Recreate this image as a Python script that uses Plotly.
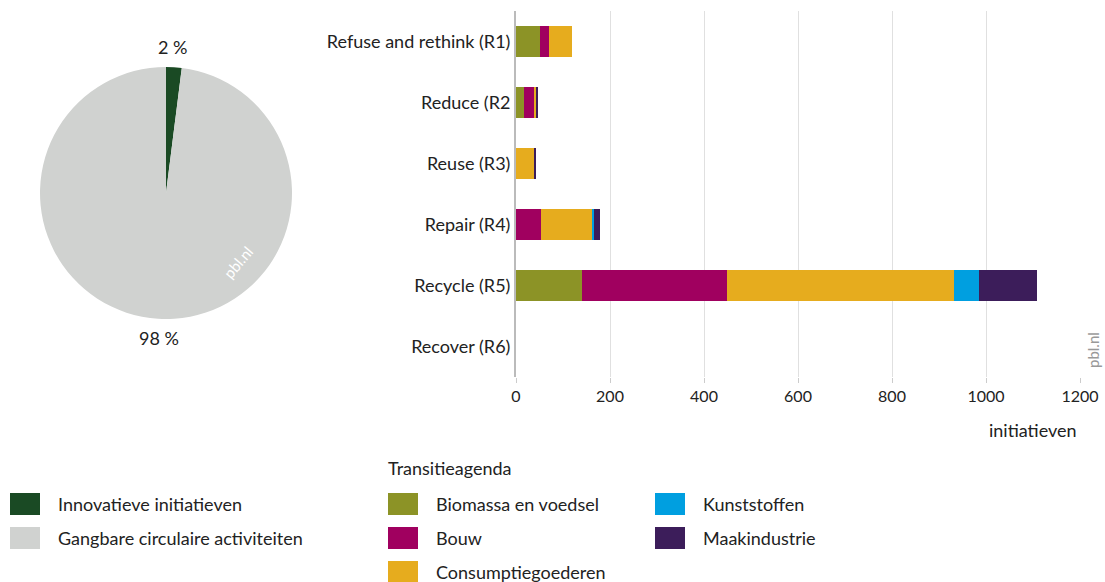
import plotly.graph_objects as go

W, H = 1105, 582

# ---- data ----
categories = ["Refuse and rethink (R1)", "Reduce (R2", "Reuse (R3)", "Repair (R4)", "Recycle (R5)", "Recover (R6)"]
biomassa = [50, 18, 0, 0, 140, 0]
bouw = [20, 22, 0, 53, 309, 0]
consumptie = [50, 3, 40, 110, 482, 0]
kunststoffen = [0, 0, 0, 2, 54, 0]
maakindustrie = [0, 4, 3, 14, 123, 0]
series_names = ["Biomassa en voedsel", "Bouw", "Consumptiegoederen", "Kunststoffen", "Maakindustrie"]
pie_labels = ["Innovatieve initiatieven", "Gangbare circulaire activiteiten"]
pie_values = [2, 98]
x_ticks = [0, 200, 400, 600, 800, 1000, 1200]

colors = ["#8c9326", "#a0005f", "#e6ac1e", "#009fe0", "#3c1d5a"]
pie_colors = ["#1a4a24", "#d0d2d0"]

FONT = "Lato"
TXT = "#222222"
FS = 18

def px(x):
    return x / W

def py(y):
    return 1 - y / H

fig = go.Figure()

fig.add_trace(go.Pie(
    labels=pie_labels, values=pie_values, sort=False, direction="clockwise", rotation=0,
    marker=dict(colors=pie_colors, line=dict(width=0)), textinfo="none", hoverinfo="label+percent",
    domain=dict(x=[px(40), px(292)], y=[py(319), py(67)]), showlegend=False,
))

for name, vals, c in zip(series_names, [biomassa, bouw, consumptie, kunststoffen, maakindustrie], colors):
    fig.add_trace(go.Bar(
        y=categories, x=vals, name=name, orientation="h", marker=dict(color=c, line=dict(width=0)),
        xaxis="x", yaxis="y", showlegend=False,
    ))

fig.update_layout(
    width=W, height=H, margin=dict(l=0, r=0, t=0, b=0),
    paper_bgcolor="white", plot_bgcolor="white",
    barmode="stack", bargap=0.5,
    font=dict(family=FONT, size=FS, color=TXT),
    xaxis=dict(domain=[px(516), px(1080)], range=[0, 1200], tickvals=x_ticks,
               showgrid=True, gridcolor="#e0e0e0", gridwidth=1, zeroline=False,
               ticks="outside", ticklen=5, tickcolor="#cccccc", showline=False,
               tickfont=dict(size=16, color=TXT), automargin=False, anchor="y"),
    yaxis=dict(domain=[py(377), py(11)], autorange="reversed", showgrid=False,
               showline=True, linecolor="#bbbbbb", linewidth=2, ticks="", ticklabelstandoff=0,
               tickfont=dict(size=FS, color=TXT), automargin=False, anchor="x"),
)

ann = []
shapes = []

def text(x, y, t, xanchor="center", size=FS, color=TXT, angle=0):
    ann.append(dict(x=px(x), y=py(y), text=t, xanchor=xanchor, yanchor="middle", showarrow=False,
                    xref="paper", yref="paper", textangle=angle, font=dict(size=size, color=color)))

text(172, 47, "2 %")
text(159, 338, "98 %")
text(238, 262, "pbl.nl", size=15, color="white", angle=-50)
text(1093, 350, "pbl.nl", size=15, color="#999999", angle=-90)
text(1079, 430, "initiatieven", xanchor="right")
text(386, 468, "Transitieagenda", xanchor="left")

def legend_item(x0, yc, color, label):
    shapes.append(dict(type="rect", xref="paper", yref="paper", x0=px(x0), x1=px(x0 + 30),
                       y0=py(yc + 11), y1=py(yc - 11), fillcolor=color, line=dict(width=0)))
    text(x0 + 46, yc, label, xanchor="left")

legend_item(10, 504, pie_colors[0], pie_labels[0])
legend_item(10, 538, pie_colors[1], pie_labels[1])
legend_item(388, 504, colors[0], series_names[0])
legend_item(388, 538, colors[1], series_names[1])
legend_item(388, 572, colors[2], series_names[2])
legend_item(655, 504, colors[3], series_names[3])
legend_item(655, 538, colors[4], series_names[4])

fig.update_layout(annotations=ann, shapes=shapes)
fig.write_html("out.html", config={"displayModeBar": False},
               post_script="document.body.style.margin='0';document.body.style.overflow='hidden';")
